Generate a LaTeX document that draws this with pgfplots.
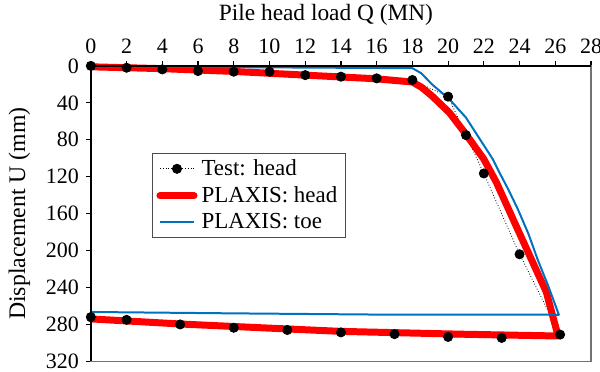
\documentclass[border=0pt]{standalone}
\usepackage{fontspec}
\setmainfont{Liberation Serif}
\usepackage{pgfplots}
\pgfplotsset{compat=1.18}
\definecolor{toeblue}{RGB}{0,112,192}
\begin{document}
\begin{tikzpicture}
\begin{axis}[
  scale only axis,
  width=250.5pt, height=148pt,
  xmin=0, xmax=28, ymin=0, ymax=320,
  y dir=reverse,
  xtick={0,2,...,28}, ytick={0,40,...,320},
  xtick pos=right, xticklabel pos=right,
  ytick pos=left,
  tick align=outside,
  major tick length=2.5pt,
  tick style={black, line width=0.6pt},
  axis line style={draw=black!55, line width=0.8pt},
  font=\fontsize{11}{13}\selectfont,
  /pgf/number format/assume math mode=true,
  xlabel={Pile head load Q (MN)},
  ylabel={Displacement U (mm)},
  xlabel style={xshift=-7.5pt, font=\fontsize{11.7}{13}\selectfont},
  ylabel style={font=\fontsize{11.9}{13}\selectfont, yshift=1pt},
  legend style={at={(0.122,0.706)}, anchor=north west, draw=black!70,
    line width=0.6pt, font=\fontsize{11.5}{13.5}\selectfont,
    inner xsep=2pt, inner ysep=1pt, row sep=0pt},
  legend cell align=left,
  clip=false,
]
\addplot[black, line width=0.4pt, densely dotted, mark=*, mark size=2.3pt, mark options={solid}] coordinates {
(0,0) (2,2) (4,3.8) (6,5.6) (8,6.3) (10,6.3) (12,10) (14,11.7) (16,13.5) (18,15.3)
(20,33.3) (21,75) (22,116.5) (24,204) (26.27,291)
(23,294.6) (20,293.5) (17,290.5) (14,288.6) (11,286) (8,283.6) (5,280) (2,275) (0,272)
};
\addlegendentry{Test: head}
\addplot[red, line width=3.5pt, line join=round, line cap=round] coordinates {
(0,1) (4,3) (8,6) (12,10) (16,14) (18,17.5) (18.5,23) (19.1,32.6) (20.07,50.6) (21,74) (22,101)
(22.7,126) (23.8,173) (25.5,245) (25.85,270.5) (26.16,292.5)
(20.6,290.5) (14,287.5) (10,284) (5,279.5) (0,274)
};
\addlegendentry{PLAXIS: head}
\addplot[toeblue, line width=1pt, line join=round] coordinates {
(0,0.5) (18,2.5) (18.5,8) (19.1,20) (20.07,36) (21,56) (21.9,83) (22.5,101) (22.86,115)
(23.4,135) (23.9,155) (24.5,182) (25,209) (25.6,238) (26.2,269.5) (16,269.3) (8,268) (0,266.5)
};
\addlegendentry{PLAXIS: toe}
\draw[black, line width=0.8pt] (axis cs:0,320) -- (axis cs:0,0) -- (axis cs:28,0);
\end{axis}
\pgfresetboundingbox
\path (current axis.south west) ++(-45.5pt,-5pt) coordinate (bl);
\path (current axis.north east) ++(4.5pt,33pt) coordinate (tr);
\path[use as bounding box] (bl) rectangle (tr);
\end{tikzpicture}
\end{document}
